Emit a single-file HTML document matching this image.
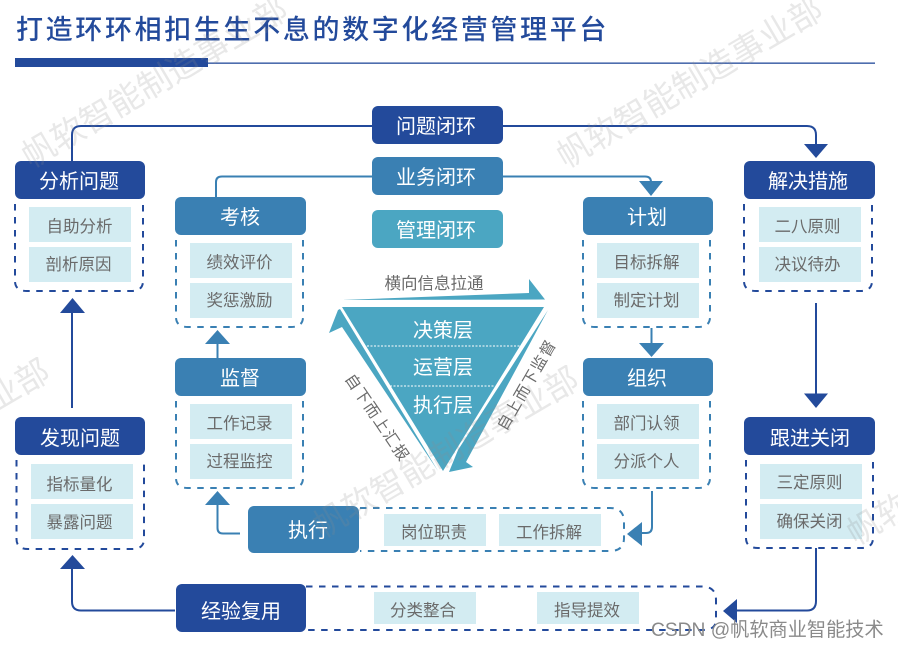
<!DOCTYPE html>
<html lang="zh-CN"><head><meta charset="utf-8"><title>打造环环相扣生生不息的数字化经营管理平台</title>
<style>
html,body{margin:0;padding:0;background:#fff;width:898px;height:648px;overflow:hidden}
svg{display:block}
text{font-family:"Liberation Sans","Noto Sans CJK SC",sans-serif}
.h{fill:#fff;font-size:20px;text-anchor:middle}
.c{fill:#6a6a6a;font-size:16.5px;text-anchor:middle}
.r{fill:#6a6a6a;font-size:15.5px;text-anchor:middle;letter-spacing:1.5px}
.wm{fill:#8c8c8c;fill-opacity:.2;font-size:33.5px;text-anchor:middle}
.d{fill:none;stroke-width:2;stroke-dasharray:6.5 6.5}
.ln{fill:none;stroke-width:2}
</style></head><body>
<svg xmlns="http://www.w3.org/2000/svg" width="898" height="648" viewBox="0 0 898 648">
<rect width="898" height="648" fill="#fff"/>
<text x="16" y="39" font-size="27" font-weight="500" fill="#234a9b" letter-spacing="2.65">打造环环相扣生生不息的数字化经营管理平台</text>
<rect x="15" y="58" width="193" height="9" fill="#234a9b"/>
<rect x="208" y="62.500" width="667" height="1.300" fill="#234a9b"/>

<!-- connectors dark -->
<g stroke="#234a9b" class="ln">
<path d="M72 161V135Q72 126 81 126H372"/>
<path d="M503 126H807Q816 126 816 135V145"/>
<path d="M72 408V312"/>
<path d="M816 303V394"/>
<path d="M816 548V601Q816 610.500 807 610.500H736"/>
<path d="M175 610.500H81Q72 610.500 72 601.500V568"/>
</g>
<g fill="#234a9b">
<path d="M804 144H828L816 158Z"/>
<path d="M60 313H85L72.500 298Z"/>
<path d="M804 393.500H828L816 408Z"/>
<path d="M60 569H85L72.500 555Z"/>
<path d="M737 599V623L723 611Z"/>
</g>
<!-- connectors mid -->
<g stroke="#3a80b3" class="ln">
<path d="M216 197V182Q216 176.500 222 176.500H372"/>
<path d="M503 176.500H645Q651 176.500 651 182V182"/>
<path d="M217.500 358V343"/>
<path d="M651.500 328V344"/>
<path d="M652 491V527Q652 533 646 533H641"/>
<path d="M240 533.500H223Q217.500 533.500 217.500 528V504"/>
</g>
<g fill="#3a80b3">
<path d="M639 181H663L651 196Z"/>
<path d="M205 344H230L217.500 330Z"/>
<path d="M639 343H664L651.500 357Z"/>
<path d="M642 522V546L627 534Z"/>
<path d="M205 505H230L217.500 491Z"/>
</g>

<!-- center boxes -->
<rect x="372" y="106" width="131" height="38" rx="6" fill="#234a9b"/>
<text class="h" x="436" y="133">问题闭环</text>
<rect x="372" y="157" width="131" height="38" rx="6" fill="#3a80b3"/>
<text class="h" x="436" y="184">业务闭环</text>
<rect x="372" y="210" width="131" height="38" rx="6" fill="#4ba6c2"/>
<text class="h" x="436" y="237">管理闭环</text>

<!-- dashed frames -->
<g stroke="#234a9b" class="d">
<path d="M15 204V281Q15 291 27 291H131Q143 291 143 281V204"/>
<path d="M744 204V281Q744 291 756 291H860Q872 291 872 281V204"/>
<path d="M16.500 460V539Q16.500 549 28 549H132Q144 549 144 539V460"/>
<path d="M746 460V538Q746 548 758 548H861Q873 548 873 538V460"/>
<path d="M306 586.500H702Q716 586.500 716 600V620Q716 630 702 630H306"/>
</g>
<g stroke="#3a80b3" class="d">
<path d="M176 240V317Q176 327 188 327H291Q303 327 303 317V240"/>
<path d="M583 240V317Q583 327 595 327H698Q710 327 710 317V240"/>
<path d="M176 401V478Q176 488 188 488H291Q303 488 303 478V401"/>
<path d="M583 401V478Q583 488 595 488H698Q710 488 710 478V401"/>
<path d="M360 508H610Q624 508 624 522V538Q624 551 610 551H360"/>
</g>

<!-- headers -->
<g fill="#234a9b">
<rect x="15" y="161" width="130" height="38" rx="6"/>
<rect x="744" y="161" width="131" height="38" rx="6"/>
<rect x="15" y="417" width="130" height="38" rx="6"/>
<rect x="744" y="417" width="131" height="38" rx="6"/>
<rect x="176" y="584" width="130" height="48" rx="6"/>
</g>
<g fill="#3a80b3">
<rect x="175" y="197" width="131" height="38" rx="6"/>
<rect x="583" y="197" width="130" height="38" rx="6"/>
<rect x="175" y="358" width="131" height="38" rx="6"/>
<rect x="583" y="358" width="130" height="38" rx="6"/>
<rect x="248" y="506" width="111" height="47" rx="6"/>
</g>
<text class="h" x="79" y="188">分析问题</text>
<text class="h" x="808" y="188">解决措施</text>
<text class="h" x="80" y="445">发现问题</text>
<text class="h" x="810" y="445">跟进关闭</text>
<text class="h" x="241" y="618">经验复用</text>
<text class="h" x="240" y="224">考核</text>
<text class="h" x="647" y="224">计划</text>
<text class="h" x="240" y="385">监督</text>
<text class="h" x="647" y="385">组织</text>
<text class="h" x="308" y="537">执行</text>

<!-- cells -->
<g fill="#d3ecf2">
<rect x="29" y="207" width="102" height="35"/><rect x="29" y="247" width="102" height="35"/>
<rect x="190" y="243" width="102" height="35"/><rect x="190" y="283" width="102" height="35"/>
<rect x="597" y="243" width="102" height="35"/><rect x="597" y="283" width="102" height="35"/>
<rect x="759" y="207" width="102" height="35"/><rect x="759" y="247" width="102" height="35"/>
<rect x="190" y="404" width="102" height="35"/><rect x="190" y="444" width="102" height="35"/>
<rect x="597" y="404" width="102" height="35"/><rect x="597" y="444" width="102" height="35"/>
<rect x="31" y="464" width="102" height="35"/><rect x="31" y="504" width="102" height="35"/>
<rect x="760" y="464" width="102" height="35"/><rect x="760" y="504" width="102" height="35"/>
<rect x="384" y="514" width="102" height="32"/><rect x="499" y="514" width="102" height="32"/>
<rect x="374" y="592" width="102" height="32"/><rect x="537" y="592" width="102" height="32"/>
</g>
<text class="c" x="79.500" y="232">自助分析</text><text class="c" x="78.500" y="270">剖析原因</text>
<text class="c" x="239.500" y="268">绩效评价</text><text class="c" x="239.500" y="306">奖惩激励</text>
<text class="c" x="646.500" y="268">目标拆解</text><text class="c" x="646.500" y="306">制定计划</text>
<text class="c" x="807.500" y="232">二八原则</text><text class="c" x="807.500" y="270">决议待办</text>
<text class="c" x="239.500" y="429">工作记录</text><text class="c" x="239.500" y="467">过程监控</text>
<text class="c" x="646.500" y="429">部门认领</text><text class="c" x="646.500" y="467">分派个人</text>
<text class="c" x="79.500" y="490">指标量化</text><text class="c" x="79.500" y="528">暴露问题</text>
<text class="c" x="809.500" y="488">三定原则</text><text class="c" x="809.500" y="527">确保关闭</text>
<text class="c" x="434" y="538">岗位职责</text><text class="c" x="549" y="538">工作拆解</text>
<text class="c" x="423" y="616">分类整合</text><text class="c" x="587" y="616">指导提效</text>

<!-- triangle -->
<path d="M342 307H544L443 471Z" fill="#4ba6c2"/>
<path d="M342 300L529 293V279L545 299.500Z" fill="#4ba6c2"/>
<path d="M338 310L329 333L342 327L438 471L340 309Z" fill="#4ba6c2"/>
<path d="M548 310L466 462L473 467L449 472L458 450Z" fill="#4ba6c2"/>
<path d="M367 346H520M390 386H495" stroke="#fff" stroke-width="1" stroke-dasharray="2 1.500" fill="none"/>
<text class="h" x="443" y="337">决策层</text>
<text class="h" x="443" y="374">运营层</text>
<text class="h" x="443" y="412">执行层</text>
<text class="c" x="434" y="289">横向信息拉通</text>
<text class="r" transform="translate(377 418) rotate(56)" y="5">自下而上汇报</text>
<text class="r" transform="translate(527 385) rotate(-60)" y="5">自上而下监督</text>

<!-- watermarks -->
<text class="wm" transform="translate(155 83) rotate(-30.500)" y="11">帆软智能制造事业部</text>
<text class="wm" transform="translate(690 83) rotate(-30.500)" y="11">帆软智能制造事业部</text>
<text class="wm" transform="translate(446 453) rotate(-30.500)" y="11">帆软智能制造事业部</text>
<text class="wm" transform="translate(-83 445) rotate(-30.500)" y="11">帆软智能制造事业部</text>
<text class="wm" transform="translate(980 460) rotate(-30.500)" y="11">帆软智能制造事业部</text>

<text x="651" y="636" font-size="19.200" fill="#8a8a8a">CSDN @帆软商业智能技术</text>
</svg>
</body></html>
